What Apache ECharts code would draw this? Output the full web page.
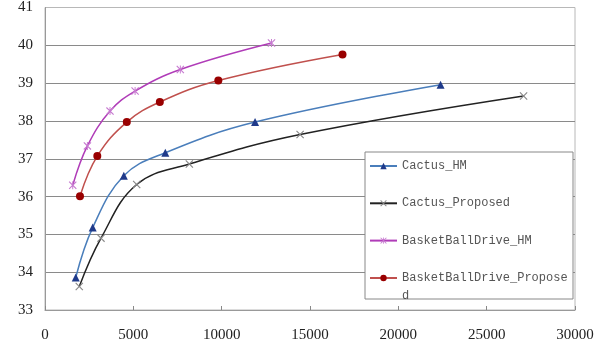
<!DOCTYPE html>
<html>
<head>
<meta charset="utf-8">
<script src="https://cdn.jsdelivr.net/npm/echarts@6/dist/echarts.min.js"></script>
<style>
  html, body { margin: 0; padding: 0; background: #fff; }
  #chart { width: 599px; height: 343px; }
</style>
</head>
<body>
<div id="chart"></div>
<script>
// 数据：码率 (x) 与 PSNR (y)
const cactusHmX = [1740, 2700, 4460, 6810, 11890, 22390];
const cactusHmY = [33.86, 35.18, 36.55, 37.16, 37.97, 38.96];
const cactusPropX = [1940, 3170, 5190, 8170, 14440, 27090];
const cactusPropY = [33.62, 34.9, 36.32, 36.86, 37.64, 38.66];
const bbHmX = [1570, 2400, 3680, 5100, 7660, 12820];
const bbHmY = [36.3, 37.34, 38.26, 38.79, 39.36, 40.06];
const bbPropX = [1980, 2960, 4630, 6500, 9810, 16840];
const bbPropY = [36.01, 37.07, 37.97, 38.5, 39.07, 39.76];
const seriesNames = ['Cactus_HM', 'Cactus_Proposed', 'BasketBallDrive_HM', 'BasketBallDrive_Proposed'];

const zip = (xs, ys) => xs.map((x, i) => [x, ys[i]]);

// 叉号和星号用填充路径画
const crossPath = 'path://M0,1L1,0L5,4L9,0L10,1L6,5L10,9L9,10L5,6L1,10L0,9L4,5Z';
const starPath = 'path://M0,1L1,0L5,4L9,0L10,1L6,5L10,9L9,10L5,6L1,10L0,9L4,5ZM4.4,0L5.6,0L5.6,10L4.4,10Z';

const chart = echarts.init(document.getElementById('chart'), null, { renderer: 'canvas' });

const legendText = { color: '#555', fontFamily: 'Liberation Mono', fontSize: 12 };

const option = {
  backgroundColor: '#ffffff',
  animation: false,
  grid: {
    left: 45, right: 24, top: 7, bottom: 33,
    show: true, borderColor: '#b8b8b8', borderWidth: 1, backgroundColor: '#fff'
  },
  xAxis: {
    type: 'value', min: 0, max: 30000, interval: 5000,
    axisLine: { show: true, lineStyle: { color: '#999' } },
    axisTick: { show: true, inside: true, length: 4, lineStyle: { color: '#888' } },
    splitLine: { show: false },
    axisLabel: {
      color: '#222', fontFamily: 'Liberation Serif', fontSize: 15, margin: 18,
      formatter: v => String(v)
    }
  },
  yAxis: {
    type: 'value', min: 33, max: 41, interval: 1,
    axisLine: { show: true, lineStyle: { color: '#999' } },
    axisTick: { show: false },
    splitLine: { show: true, showMaxLine: false, lineStyle: { color: '#8a8a8a', width: 1 } },
    axisLabel: { color: '#222', fontFamily: 'Liberation Serif', fontSize: 15, margin: 12 }
  },
  // 图例外框单独画，让最后一项的 "d" 像原图一样压在边框上
  graphic: [{
    type: 'rect', z: 3,
    shape: { x: 365, y: 152, width: 208, height: 147 },
    style: { fill: '#fff', stroke: '#888', lineWidth: 1 }
  }],
  legend: [
    {
      orient: 'vertical',
      left: 369, top: 159,
      padding: 0,
      itemGap: 23.3,
      itemWidth: 27, itemHeight: 8,
      textStyle: Object.assign({ lineHeight: 14 }, legendText),
      data: seriesNames.slice(0, 3)
    },
    {
      // 最后一项文字折行；前面加一空行，使第一行与图标对齐
      orient: 'vertical',
      left: 369, top: 251,
      padding: 0,
      itemWidth: 27, itemHeight: 8,
      textStyle: Object.assign({ lineHeight: 18 }, legendText),
      data: [seriesNames[3]],
      formatter: name => '\n' + name.slice(0, -1) + '\n' + name.slice(-1)
    }
  ],
  series: [
    {
      name: seriesNames[0], type: 'line', smooth: 0.4,
      data: zip(cactusHmX, cactusHmY),
      symbol: 'triangle', symbolSize: 8,
      lineStyle: { color: '#4a7ebb', width: 1.5 },
      itemStyle: { color: '#1f3a8a' }
    },
    {
      name: seriesNames[1], type: 'line', smooth: 0.4,
      data: zip(cactusPropX, cactusPropY),
      symbol: crossPath, symbolSize: 8,
      lineStyle: { color: '#222', width: 1.5 },
      itemStyle: { color: '#888' }
    },
    {
      name: seriesNames[2], type: 'line', smooth: 0.4,
      data: zip(bbHmX, bbHmY),
      symbol: starPath, symbolSize: 8,
      lineStyle: { color: '#b03cb8', width: 1.5 },
      itemStyle: { color: '#c77ad0' }
    },
    {
      name: seriesNames[3], type: 'line', smooth: 0.4,
      data: zip(bbPropX, bbPropY),
      symbol: 'circle', symbolSize: 8,
      lineStyle: { color: '#c0504d', width: 1.5 },
      itemStyle: { color: '#990000' }
    }
  ]
};

chart.setOption(option);
</script>
</body>
</html>
